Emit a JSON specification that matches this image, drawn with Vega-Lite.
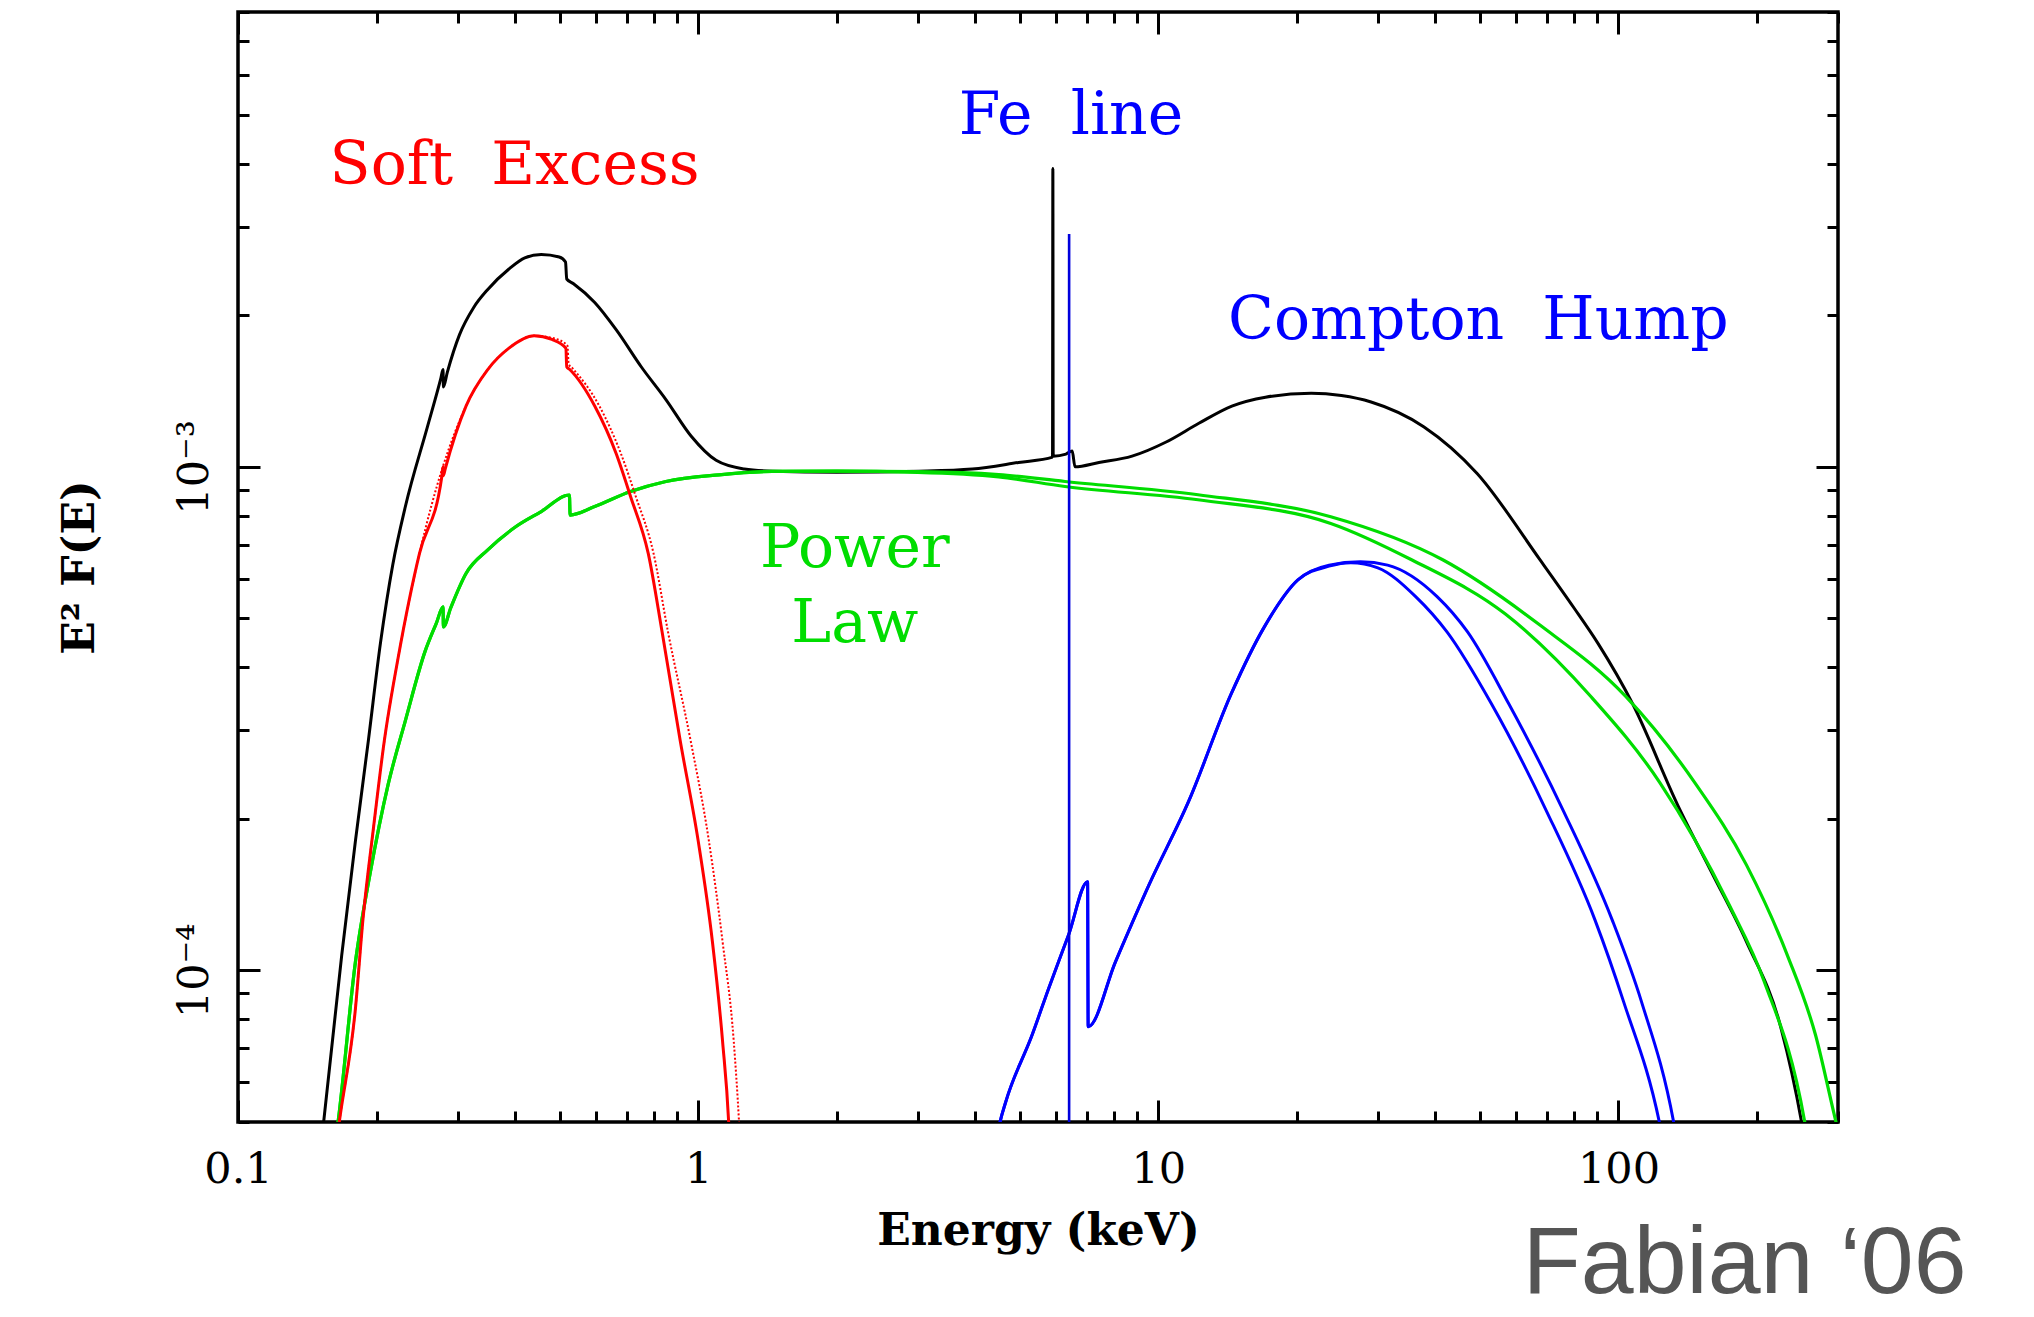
{
  "$schema": "https://vega.github.io/schema/vega-lite/v6.json",
  "width": 1600,
  "height": 1110,
  "autosize": {"type": "none"},
  "padding": {"left": 238, "top": 12, "right": 196, "bottom": 195},
  "background": "white",
  "config": {
    "view": {"stroke": "black", "strokeWidth": 3.5},
    "axis": {"grid": false, "domain": false, "tickColor": "black", "tickWidth": 3, "labelFlush": false, "labelOverlap": false, "labelColor": "black", "titleColor": "black"}
  },
  "title": {"text": "Fabian ‘06", "orient": "bottom", "anchor": "end", "font": "Liberation Sans", "fontSize": 95, "fontWeight": "normal", "color": "#555555", "dx": 127, "offset": -35},
  "datasets": {
    "c": [
      {"s":"k","i":1,"E":0.152,"F":4.6e-5},{"s":"k","i":2,"E":0.168,"F":1.07e-4},{"s":"k","i":3,"E":0.180,"F":1.81e-4},{"s":"k","i":4,"E":0.192,"F":2.86e-4},{"s":"k","i":5,"E":0.204,"F":4.47e-4},{"s":"k","i":6,"E":0.217,"F":6.4e-4},{"s":"k","i":7,"E":0.231,"F":8.33e-4},{"s":"k","i":8,"E":0.258,"F":1.20e-3},{"s":"k","i":9,"E":0.276,"F":1.50e-3},{"s":"k","i":10,"E":0.279,"F":1.56e-3},{"s":"k","i":11,"E":0.2795,"F":1.44e-3},{"s":"k","i":12,"E":0.285,"F":1.54e-3},{"s":"k","i":13,"E":0.303,"F":1.83e-3},{"s":"k","i":14,"E":0.325,"F":2.07e-3},{"s":"k","i":15,"E":0.349,"F":2.25e-3},{"s":"k","i":16,"E":0.388,"F":2.47e-3},{"s":"k","i":17,"E":0.42,"F":2.60e-3},{"s":"k","i":18,"E":0.456,"F":2.64e-3},{"s":"k","i":19,"E":0.499,"F":2.61e-3},{"s":"k","i":20,"E":0.515,"F":2.55e-3},{"s":"k","i":21,"E":0.518,"F":2.36e-3},{"s":"k","i":22,"E":0.536,"F":2.31e-3},{"s":"k","i":23,"E":0.596,"F":2.12e-3},{"s":"k","i":24,"E":0.664,"F":1.87e-3},{"s":"k","i":25,"E":0.752,"F":1.58e-3},{"s":"k","i":26,"E":0.851,"F":1.36e-3},{"s":"k","i":27,"E":0.966,"F":1.15e-3},{"s":"k","i":28,"E":1.094,"F":1.03e-3},{"s":"k","i":29,"E":1.26,"F":9.9e-4},{"s":"k","i":30,"E":1.45,"F":9.8e-4},{"s":"k","i":31,"E":2.0,"F":9.75e-4},{"s":"k","i":32,"E":3.02,"F":9.8e-4},{"s":"k","i":33,"E":3.94,"F":9.9e-4},{"s":"k","i":34,"E":4.97,"F":1.02e-3},{"s":"k","i":35,"E":5.89,"F":1.045e-3},{"s":"k","i":36,"E":5.90,"F":3.91e-3},{"s":"k","i":37,"E":5.91,"F":1.05e-3},{"s":"k","i":38,"E":6.30,"F":1.06e-3},{"s":"k","i":39,"E":6.50,"F":1.075e-3},{"s":"k","i":40,"E":6.59,"F":1.0e-3},{"s":"k","i":41,"E":7.43,"F":1.02e-3},{"s":"k","i":42,"E":8.77,"F":1.05e-3},{"s":"k","i":43,"E":10.4,"F":1.12e-3},{"s":"k","i":44,"E":12.25,"F":1.22e-3},{"s":"k","i":45,"E":14.45,"F":1.32e-3},{"s":"k","i":46,"E":17.1,"F":1.375e-3},{"s":"k","i":47,"E":21.5,"F":1.40e-3},{"s":"k","i":48,"E":25.0,"F":1.385e-3},{"s":"k","i":49,"E":29.0,"F":1.345e-3},{"s":"k","i":50,"E":37.8,"F":1.20e-3},{"s":"k","i":51,"E":49.3,"F":9.7e-4},{"s":"k","i":52,"E":67.5,"F":6.54e-4},{"s":"k","i":53,"E":80.0,"F":5.25e-4},{"s":"k","i":54,"E":90.4,"F":4.45e-4},{"s":"k","i":55,"E":107.4,"F":3.38e-4},{"s":"k","i":56,"E":134.5,"F":2.13e-4},{"s":"k","i":57,"E":159.7,"F":1.56e-4},{"s":"k","i":58,"E":189.7,"F":1.14e-4},{"s":"k","i":59,"E":225.4,"F":7.7e-5},{"s":"k","i":60,"E":250,"F":5.0e-5},{"s":"k","i":61,"E":254,"F":4.6e-5},

      {"s":"g1","i":1,"E":0.163,"F":4.6e-5},{"s":"g1","i":2,"E":0.165,"F":5.0e-5},{"s":"g1","i":3,"E":0.180,"F":1.04e-4},{"s":"g1","i":4,"E":0.1935,"F":1.55e-4},{"s":"g1","i":5,"E":0.212,"F":2.34e-4},{"s":"g1","i":6,"E":0.231,"F":3.13e-4},{"s":"g1","i":7,"E":0.255,"F":4.3e-4},{"s":"g1","i":8,"E":0.270,"F":4.9e-4},{"s":"g1","i":9,"E":0.279,"F":5.27e-4},{"s":"g1","i":10,"E":0.2795,"F":4.81e-4},{"s":"g1","i":11,"E":0.290,"F":5.25e-4},{"s":"g1","i":12,"E":0.313,"F":6.14e-4},{"s":"g1","i":13,"E":0.349,"F":6.84e-4},{"s":"g1","i":14,"E":0.402,"F":7.61e-4},{"s":"g1","i":15,"E":0.456,"F":8.15e-4},{"s":"g1","i":16,"E":0.525,"F":8.79e-4},{"s":"g1","i":17,"E":0.527,"F":8.02e-4},{"s":"g1","i":18,"E":0.596,"F":8.34e-4},{"s":"g1","i":19,"E":0.713,"F":8.93e-4},{"s":"g1","i":20,"E":0.851,"F":9.35e-4},{"s":"g1","i":21,"E":1.11,"F":9.64e-4},{"s":"g1","i":22,"E":1.45,"F":9.79e-4},{"s":"g1","i":23,"E":2.0,"F":9.8e-4},{"s":"g1","i":24,"E":3.0,"F":9.75e-4},{"s":"g1","i":25,"E":4.5,"F":9.55e-4},{"s":"g1","i":26,"E":6.27,"F":9.14e-4},{"s":"g1","i":27,"E":12.2,"F":8.6e-4},{"s":"g1","i":28,"E":23.7,"F":7.72e-4},{"s":"g1","i":29,"E":35.6,"F":6.53e-4},{"s":"g1","i":30,"E":56.8,"F":5.1e-4},{"s":"g1","i":31,"E":87.3,"F":3.49e-4},{"s":"g1","i":32,"E":123,"F":2.36e-4},{"s":"g1","i":33,"E":174,"F":1.35e-4},{"s":"g1","i":34,"E":207,"F":9.55e-5},{"s":"g1","i":35,"E":254,"F":5.0e-5},{"s":"g1","i":36,"E":258,"F":4.6e-5},

      {"s":"g2","i":1,"E":0.163,"F":4.6e-5},{"s":"g2","i":2,"E":0.165,"F":5.0e-5},{"s":"g2","i":3,"E":0.180,"F":1.04e-4},{"s":"g2","i":4,"E":0.1935,"F":1.55e-4},{"s":"g2","i":5,"E":0.212,"F":2.34e-4},{"s":"g2","i":6,"E":0.231,"F":3.13e-4},{"s":"g2","i":7,"E":0.255,"F":4.3e-4},{"s":"g2","i":8,"E":0.270,"F":4.9e-4},{"s":"g2","i":9,"E":0.279,"F":5.27e-4},{"s":"g2","i":10,"E":0.2795,"F":4.81e-4},{"s":"g2","i":11,"E":0.290,"F":5.25e-4},{"s":"g2","i":12,"E":0.313,"F":6.14e-4},{"s":"g2","i":13,"E":0.349,"F":6.84e-4},{"s":"g2","i":14,"E":0.402,"F":7.61e-4},{"s":"g2","i":15,"E":0.456,"F":8.15e-4},{"s":"g2","i":16,"E":0.525,"F":8.79e-4},{"s":"g2","i":17,"E":0.527,"F":8.02e-4},{"s":"g2","i":18,"E":0.596,"F":8.34e-4},{"s":"g2","i":19,"E":0.713,"F":8.93e-4},{"s":"g2","i":20,"E":0.851,"F":9.35e-4},{"s":"g2","i":21,"E":1.11,"F":9.64e-4},{"s":"g2","i":22,"E":1.45,"F":9.79e-4},{"s":"g2","i":23,"E":2.0,"F":9.8e-4},{"s":"g2","i":24,"E":3.0,"F":9.78e-4},{"s":"g2","i":25,"E":4.5,"F":9.65e-4},{"s":"g2","i":26,"E":6.27,"F":9.35e-4},{"s":"g2","i":27,"E":12.2,"F":8.8e-4},{"s":"g2","i":28,"E":23.7,"F":7.96e-4},{"s":"g2","i":29,"E":41.6,"F":6.53e-4},{"s":"g2","i":30,"E":67.5,"F":4.85e-4},{"s":"g2","i":31,"E":103.7,"F":3.50e-4},{"s":"g2","i":32,"E":146.5,"F":2.36e-4},{"s":"g2","i":33,"E":189.7,"F":1.62e-4},{"s":"g2","i":34,"E":233,"F":1.07e-4},{"s":"g2","i":35,"E":268,"F":7.45e-5},{"s":"g2","i":36,"E":297,"F":5.0e-5},{"s":"g2","i":37,"E":302,"F":4.7e-5},

      {"s":"r1","i":1,"E":0.164,"F":4.6e-5},{"s":"r1","i":2,"E":0.166,"F":5.0e-5},{"s":"r1","i":3,"E":0.180,"F":8.41e-5},{"s":"r1","i":4,"E":0.187,"F":1.27e-4},{"s":"r1","i":5,"E":0.197,"F":1.92e-4},{"s":"r1","i":6,"E":0.208,"F":2.86e-4},{"s":"r1","i":7,"E":0.223,"F":4.19e-4},{"s":"r1","i":8,"E":0.248,"F":6.73e-4},{"s":"r1","i":9,"E":0.277,"F":9.5e-4},{"s":"r1","i":10,"E":0.279,"F":1.0e-3},{"s":"r1","i":11,"E":0.2795,"F":9.6e-4},{"s":"r1","i":12,"E":0.282,"F":9.9e-4},{"s":"r1","i":13,"E":0.313,"F":1.32e-3},{"s":"r1","i":14,"E":0.349,"F":1.56e-3},{"s":"r1","i":15,"E":0.388,"F":1.72e-3},{"s":"r1","i":16,"E":0.44,"F":1.82e-3},{"s":"r1","i":17,"E":0.481,"F":1.79e-3},{"s":"r1","i":18,"E":0.516,"F":1.72e-3},{"s":"r1","i":19,"E":0.518,"F":1.58e-3},{"s":"r1","i":20,"E":0.526,"F":1.56e-3},{"s":"r1","i":21,"E":0.596,"F":1.32e-3},{"s":"r1","i":22,"E":0.664,"F":1.06e-3},{"s":"r1","i":23,"E":0.713,"F":8.73e-4},{"s":"r1","i":24,"E":0.779,"F":6.73e-4},{"s":"r1","i":25,"E":0.835,"F":4.7e-4},{"s":"r1","i":26,"E":0.914,"F":2.86e-4},{"s":"r1","i":27,"E":1.0,"F":1.81e-4},{"s":"r1","i":28,"E":1.074,"F":1.14e-4},{"s":"r1","i":29,"E":1.13,"F":7.23e-5},{"s":"r1","i":30,"E":1.165,"F":5.0e-5},{"s":"r1","i":31,"E":1.17,"F":4.6e-5},

      {"s":"r2","i":1,"E":0.164,"F":4.6e-5},{"s":"r2","i":2,"E":0.166,"F":5.0e-5},{"s":"r2","i":3,"E":0.180,"F":8.41e-5},{"s":"r2","i":4,"E":0.187,"F":1.27e-4},{"s":"r2","i":5,"E":0.197,"F":1.92e-4},{"s":"r2","i":6,"E":0.208,"F":2.86e-4},{"s":"r2","i":7,"E":0.223,"F":4.19e-4},{"s":"r2","i":8,"E":0.248,"F":6.73e-4},{"s":"r2","i":9,"E":0.313,"F":1.32e-3},{"s":"r2","i":10,"E":0.349,"F":1.56e-3},{"s":"r2","i":11,"E":0.388,"F":1.72e-3},{"s":"r2","i":12,"E":0.44,"F":1.82e-3},{"s":"r2","i":13,"E":0.485,"F":1.80e-3},{"s":"r2","i":14,"E":0.52,"F":1.74e-3},{"s":"r2","i":15,"E":0.523,"F":1.60e-3},{"s":"r2","i":16,"E":0.533,"F":1.57e-3},{"s":"r2","i":17,"E":0.61,"F":1.32e-3},{"s":"r2","i":18,"E":0.68,"F":1.06e-3},{"s":"r2","i":19,"E":0.732,"F":8.73e-4},{"s":"r2","i":20,"E":0.80,"F":6.73e-4},{"s":"r2","i":21,"E":0.86,"F":4.7e-4},{"s":"r2","i":22,"E":0.963,"F":2.86e-4},{"s":"r2","i":23,"E":1.055,"F":1.81e-4},{"s":"r2","i":24,"E":1.13,"F":1.14e-4},{"s":"r2","i":25,"E":1.195,"F":7.23e-5},{"s":"r2","i":26,"E":1.227,"F":5.0e-5},{"s":"r2","i":27,"E":1.233,"F":4.6e-5},

      {"s":"b1","i":1,"E":4.45,"F":4.6e-5},{"s":"b1","i":2,"E":4.53,"F":5.0e-5},{"s":"b1","i":3,"E":4.66,"F":5.48e-5},{"s":"b1","i":4,"E":5.32,"F":7.45e-5},{"s":"b1","i":5,"E":5.78,"F":9.22e-5},{"s":"b1","i":6,"E":6.39,"F":1.18e-4},{"s":"b1","i":7,"E":7.02,"F":1.50e-4},{"s":"b1","i":8,"E":7.04,"F":7.73e-5},{"s":"b1","i":9,"E":8.07,"F":1.04e-4},{"s":"b1","i":10,"E":9.55,"F":1.48e-4},{"s":"b1","i":11,"E":11.65,"F":2.17e-4},{"s":"b1","i":12,"E":14.4,"F":3.54e-4},{"s":"b1","i":13,"E":17.0,"F":4.81e-4},{"s":"b1","i":14,"E":20.1,"F":5.96e-4},{"s":"b1","i":15,"E":23.5,"F":6.35e-4},{"s":"b1","i":16,"E":26.2,"F":6.45e-4},{"s":"b1","i":17,"E":30,"F":6.3e-4},{"s":"b1","i":18,"E":36.2,"F":5.53e-4},{"s":"b1","i":19,"E":42.4,"F":4.70e-4},{"s":"b1","i":20,"E":53,"F":3.38e-4},{"s":"b1","i":21,"E":69.8,"F":2.07e-4},{"s":"b1","i":22,"E":88.9,"F":1.26e-4},{"s":"b1","i":23,"E":102.6,"F":8.67e-5},{"s":"b1","i":24,"E":122.7,"F":5.0e-5},{"s":"b1","i":25,"E":125,"F":4.6e-5},

      {"s":"b2","i":1,"E":4.45,"F":4.6e-5},{"s":"b2","i":2,"E":4.53,"F":5.0e-5},{"s":"b2","i":3,"E":4.66,"F":5.48e-5},{"s":"b2","i":4,"E":5.32,"F":7.45e-5},{"s":"b2","i":5,"E":5.78,"F":9.22e-5},{"s":"b2","i":6,"E":6.39,"F":1.18e-4},{"s":"b2","i":7,"E":7.02,"F":1.50e-4},{"s":"b2","i":8,"E":7.04,"F":7.73e-5},{"s":"b2","i":9,"E":8.07,"F":1.04e-4},{"s":"b2","i":10,"E":9.55,"F":1.48e-4},{"s":"b2","i":11,"E":11.65,"F":2.17e-4},{"s":"b2","i":12,"E":14.4,"F":3.54e-4},{"s":"b2","i":13,"E":17.0,"F":4.81e-4},{"s":"b2","i":14,"E":20.1,"F":5.96e-4},{"s":"b2","i":15,"E":23.5,"F":6.38e-4},{"s":"b2","i":16,"E":27.5,"F":6.48e-4},{"s":"b2","i":17,"E":31.5,"F":6.38e-4},{"s":"b2","i":18,"E":40.3,"F":5.53e-4},{"s":"b2","i":19,"E":47,"F":4.70e-4},{"s":"b2","i":20,"E":57.8,"F":3.38e-4},{"s":"b2","i":21,"E":76,"F":2.07e-4},{"s":"b2","i":22,"E":96.9,"F":1.26e-4},{"s":"b2","i":23,"E":112.2,"F":8.67e-5},{"s":"b2","i":24,"E":131.8,"F":5.0e-5},{"s":"b2","i":25,"E":134,"F":4.6e-5},

      {"s":"fe","i":1,"E":6.40,"F":4.0e-5},{"s":"fe","i":2,"E":6.40,"F":2.90e-3}
    ],
    "n": [
      {"k":"soft","t":"Soft\u00a0\u00a0Excess","E":0.399,"F":0.00365},
      {"k":"fe","t":"Fe\u00a0\u00a0line","E":6.46,"F":0.00458},
      {"k":"compton","t":"Compton\u00a0\u00a0Hump","E":49.6,"F":0.00179},
      {"k":"pl","t":"Power","E":2.19,"F":0.000633},
      {"k":"pl","t":"Law","E":2.19,"F":0.000448}
    ]
  },
  "layer": [
    {
      "data": {"name": "c"},
      "transform": [{"filter": "datum.s == 'k'"}],
      "mark": {"type": "line", "clip": true, "color": "black", "strokeWidth": 3, "interpolate": "monotone"},
      "encoding": {
        "x": {"field": "E", "type": "quantitative", "scale": {"type": "log", "domain": [0.1, 300], "nice": false},
          "axis": {"orient": "bottom", "values": [0.1,0.2,0.3,0.4,0.5,0.6,0.7,0.8,0.9,1,2,3,4,5,6,7,8,9,10,20,30,40,50,60,70,80,90,100,200,300],
            "tickSize": {"condition": {"test": "datum.value==0.1||datum.value==1||datum.value==10||datum.value==100", "value": -22}, "value": -11},
            "labelExpr": "datum.value==0.1?'0.1':datum.value==1?'1':datum.value==10?'10':datum.value==100?'100':''",
            "labelFont": "DejaVu Serif", "labelFontSize": 43, "labelBaseline": "alphabetic", "labelAlign": "center", "labelPadding": 82,
            "title": "Energy (keV)", "titleFont": "DejaVu Serif", "titleFontSize": 44, "titleFontWeight": "bold", "titlePadding": 7}},
        "y": {"field": "F", "type": "quantitative", "scale": {"type": "log", "domain": [0.00005, 0.008], "nice": false},
          "axis": {"orient": "left", "values": [0.00005,0.00006,0.00007,0.00008,0.00009,0.0001,0.0002,0.0003,0.0004,0.0005,0.0006,0.0007,0.0008,0.0009,0.001,0.002,0.003,0.004,0.005,0.006,0.007,0.008],
            "tickSize": {"condition": {"test": "datum.value==0.001||datum.value==0.0001", "value": -22}, "value": -11},
            "labelExpr": "datum.value==0.001?'10⁻³':datum.value==0.0001?'10⁻⁴':''",
            "labelFont": "DejaVu Serif", "labelFontSize": 43, "labelAngle": -90, "labelAlign": "center", "labelBaseline": "alphabetic", "labelPadding": 53,
            "title": "E² F(E)", "titleFont": "DejaVu Serif", "titleFontSize": 44, "titleFontWeight": "bold", "titlePadding": 60}},
        "order": {"field": "i", "type": "quantitative"}
      }
    },
    {
      "data": {"name": "c"},
      "transform": [{"filter": "datum.s == 'g1' || datum.s == 'g2'"}],
      "mark": {"type": "line", "clip": true, "color": "#00dd00", "strokeWidth": 3.2, "interpolate": "monotone"},
      "encoding": {
        "x": {"field": "E", "type": "quantitative", "scale": {"type": "log", "domain": [0.1, 300], "nice": false}, "axis": null},
        "y": {"field": "F", "type": "quantitative", "scale": {"type": "log", "domain": [0.00005, 0.008], "nice": false}, "axis": null},
        "detail": {"field": "s"},
        "order": {"field": "i", "type": "quantitative"}
      }
    },
    {
      "data": {"name": "c"},
      "transform": [{"filter": "datum.s == 'r1'"}],
      "mark": {"type": "line", "clip": true, "color": "#ff0000", "strokeWidth": 3, "interpolate": "monotone"},
      "encoding": {
        "x": {"field": "E", "type": "quantitative", "scale": {"type": "log", "domain": [0.1, 300], "nice": false}, "axis": null},
        "y": {"field": "F", "type": "quantitative", "scale": {"type": "log", "domain": [0.00005, 0.008], "nice": false}, "axis": null},
        "order": {"field": "i", "type": "quantitative"}
      }
    },
    {
      "data": {"name": "c"},
      "transform": [{"filter": "datum.s == 'r2'"}],
      "mark": {"type": "line", "clip": true, "color": "#ff0000", "strokeWidth": 2, "strokeDash": [2, 2], "interpolate": "monotone"},
      "encoding": {
        "x": {"field": "E", "type": "quantitative", "scale": {"type": "log", "domain": [0.1, 300], "nice": false}, "axis": null},
        "y": {"field": "F", "type": "quantitative", "scale": {"type": "log", "domain": [0.00005, 0.008], "nice": false}, "axis": null},
        "order": {"field": "i", "type": "quantitative"}
      }
    },
    {
      "data": {"name": "c"},
      "transform": [{"filter": "datum.s == 'b1' || datum.s == 'b2'"}],
      "mark": {"type": "line", "clip": true, "color": "#0000ff", "strokeWidth": 3, "interpolate": "monotone"},
      "encoding": {
        "x": {"field": "E", "type": "quantitative", "scale": {"type": "log", "domain": [0.1, 300], "nice": false}, "axis": null},
        "y": {"field": "F", "type": "quantitative", "scale": {"type": "log", "domain": [0.00005, 0.008], "nice": false}, "axis": null},
        "detail": {"field": "s"},
        "order": {"field": "i", "type": "quantitative"}
      }
    },
    {
      "data": {"name": "c"},
      "transform": [{"filter": "datum.s == 'fe'"}],
      "mark": {"type": "line", "clip": true, "color": "#0000dd", "strokeWidth": 2.6},
      "encoding": {
        "x": {"field": "E", "type": "quantitative", "scale": {"type": "log", "domain": [0.1, 300], "nice": false}, "axis": null},
        "y": {"field": "F", "type": "quantitative", "scale": {"type": "log", "domain": [0.00005, 0.008], "nice": false}, "axis": null},
        "order": {"field": "i", "type": "quantitative"}
      }
    },
    {
      "data": {"name": "n"},
      "mark": {"type": "text", "font": "DejaVu Serif", "fontSize": 60, "align": "center", "baseline": "alphabetic"},
      "encoding": {
        "x": {"field": "E", "type": "quantitative", "scale": {"type": "log", "domain": [0.1, 300], "nice": false},
          "axis": {"orient": "top", "values": [0.1,0.2,0.3,0.4,0.5,0.6,0.7,0.8,0.9,1,2,3,4,5,6,7,8,9,10,20,30,40,50,60,70,80,90,100,200,300],
            "tickSize": {"condition": {"test": "datum.value==0.1||datum.value==1||datum.value==10||datum.value==100", "value": -22}, "value": -11},
            "labels": false, "title": null}},
        "y": {"field": "F", "type": "quantitative", "scale": {"type": "log", "domain": [0.00005, 0.008], "nice": false},
          "axis": {"orient": "right", "values": [0.00005,0.00006,0.00007,0.00008,0.00009,0.0001,0.0002,0.0003,0.0004,0.0005,0.0006,0.0007,0.0008,0.0009,0.001,0.002,0.003,0.004,0.005,0.006,0.007,0.008],
            "tickSize": {"condition": {"test": "datum.value==0.001||datum.value==0.0001", "value": -22}, "value": -11},
            "labels": false, "title": null}},
        "text": {"field": "t"},
        "color": {"field": "k", "type": "nominal", "scale": {"domain": ["soft", "fe", "compton", "pl"], "range": ["#ff0000", "#0000ff", "#0000ff", "#00dd00"]}, "legend": null}
      }
    }
  ],
  "resolve": {"axis": {"x": "independent", "y": "independent"}}
}
